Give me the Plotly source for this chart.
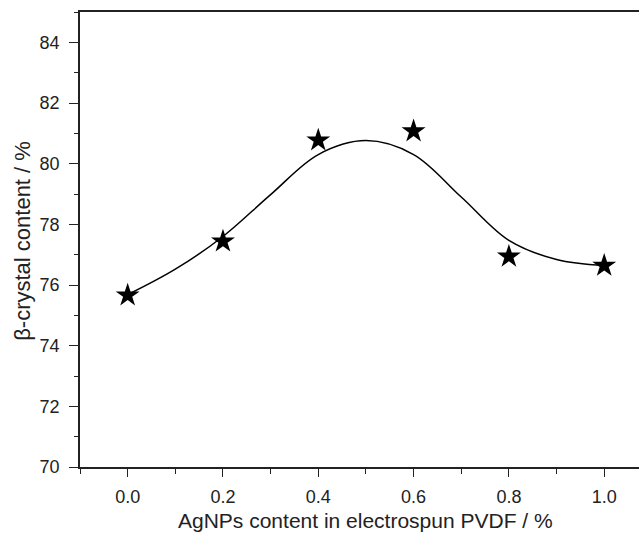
import plotly.graph_objects as go

# Measured data points
ag_content = [0.0, 0.2, 0.4, 0.6, 0.8, 1.0]
beta_content = [75.66, 77.44, 80.77, 81.07, 76.94, 76.64]

# Fitted curve
fit_x = [0.0, 0.1, 0.2, 0.3, 0.4, 0.5, 0.6, 0.7, 0.8, 0.9, 1.0]
fit_y = [75.68, 76.52, 77.6, 78.98, 80.3, 80.76, 80.3, 78.9, 77.47, 76.84, 76.64]

x_ticks = [0.0, 0.2, 0.4, 0.6, 0.8, 1.0]
x_ticklabels = ["0.0", "0.2", "0.4", "0.6", "0.8", "1.0"]
y_ticks = [70, 72, 74, 76, 78, 80, 82, 84]
y_ticklabels = ["70", "72", "74", "76", "78", "80", "82", "84"]

x_title = "AgNPs content in electrospun PVDF / %"
y_title = "β-crystal content / %"

font_family = "Liberation Sans, Arial, sans-serif"
axis_color = "#222222"
text_color = "#222222"

fig = go.Figure()
fig.add_trace(go.Scatter(
    x=fit_x, y=fit_y, mode="lines",
    line=dict(color="black", width=1.5, shape="spline", smoothing=1.0),
    showlegend=False, hoverinfo="skip"))
fig.add_trace(go.Scatter(
    x=ag_content, y=beta_content, mode="markers",
    marker=dict(symbol="star", size=18, color="black", line=dict(width=0)),
    showlegend=False))

fig.update_layout(
    width=639, height=533,
    margin=dict(l=80, r=0, t=12, b=66),
    paper_bgcolor="white", plot_bgcolor="white",
    font=dict(family=font_family, color=text_color),
    xaxis=dict(
        range=[-0.1, 1.073], showgrid=False, zeroline=False,
        showline=True, linecolor=axis_color, linewidth=1.5, mirror=True,
        tickmode="array", tickvals=x_ticks, ticktext=x_ticklabels,
        ticks="outside", ticklen=8, tickwidth=1.2, tickcolor=axis_color,
        minor=dict(dtick=0.1, tick0=0.1, ticks="outside", ticklen=5,
                   tickwidth=1.2, tickcolor=axis_color),
        tickfont=dict(size=18, family=font_family, color=text_color),
        ticklabelstandoff=5,
    ),
    yaxis=dict(
        range=[70, 85], showgrid=False, zeroline=False,
        showline=True, linecolor=axis_color, linewidth=1.5, mirror=False,
        tickmode="array", tickvals=y_ticks, ticktext=y_ticklabels,
        ticks="outside", ticklen=9, tickwidth=1.2, tickcolor=axis_color,
        minor=dict(dtick=1, tick0=71, ticks="outside", ticklen=4,
                   tickwidth=1.2, tickcolor=axis_color),
        tickfont=dict(size=18, family=font_family, color=text_color),
        ticklabelstandoff=6,
    ),
    annotations=[
        dict(text=x_title, xref="paper", yref="paper", x=0.51, y=-0.117,
             xanchor="center", yanchor="middle", showarrow=False,
             font=dict(size=21, family=font_family, color=text_color)),
        dict(text=y_title, xref="paper", yref="paper", x=-0.102, y=0.497,
             xanchor="center", yanchor="middle", showarrow=False, textangle=-90,
             font=dict(size=22, family=font_family, color=text_color)),
    ],
)

fig.write_html("out.html")
